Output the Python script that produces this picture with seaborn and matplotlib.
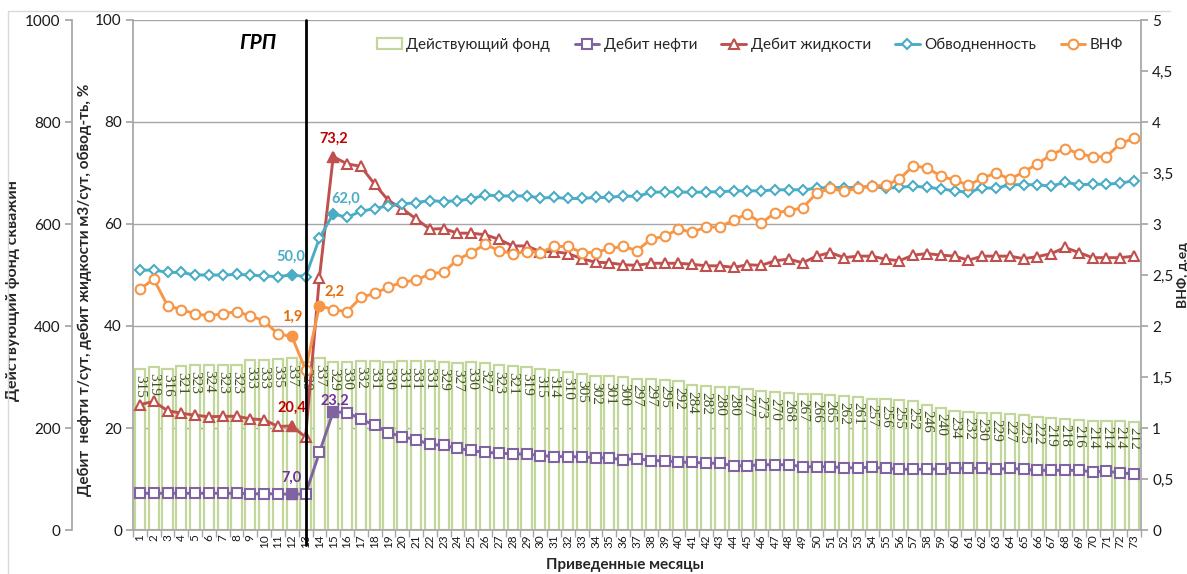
import numpy as np
import pandas as pd
import matplotlib
matplotlib.use("Agg")
import matplotlib.pyplot as plt
import seaborn as sns
from matplotlib.lines import Line2D
from matplotlib.patches import Patch
from matplotlib.ticker import FuncFormatter, MultipleLocator, FixedLocator

# ---- data -------------------------------------------------------------
months = list(range(1, 74))

# active well stock (bars, outer left axis)
fund = [315, 319, 316, 321, 323, 324, 323, 323, 333, 333,
        335, 337, 329, 337, 329, 330, 332, 331, 330, 331,
        331, 331, 329, 327, 330, 327, 323, 321, 319, 315,
        314, 310, 305, 302, 301, 300, 297, 297, 295, 292,
        284, 282, 280, 280, 277, 273, 270, 268, 267, 266,
        265, 262, 261, 257, 256, 255, 252, 246, 240, 234,
        232, 230, 229, 227, 225, 222, 219, 218, 216, 214,
        214, 214, 212]

# oil rate, t/day
oil = [7.2, 7.2, 7.2, 7.2, 7.2, 7.2, 7.2, 7.2, 7.1, 7.1,
       7.1, 7.0, 7.1, 15.2, 23.2, 23.0, 21.8, 20.5, 19.1, 18.3,
       17.7, 16.8, 16.6, 16.0, 15.6, 15.2, 15.1, 14.9, 14.9, 14.6,
       14.4, 14.4, 14.3, 14.2, 14.1, 13.8, 14.0, 13.6, 13.6, 13.3,
       13.3, 13.1, 13.1, 12.6, 12.6, 12.8, 12.8, 12.8, 12.4, 12.4,
       12.4, 12.2, 12.2, 12.3, 12.1, 11.9, 11.9, 11.9, 12.0, 12.1,
       12.1, 12.1, 11.9, 12.1, 11.9, 11.7, 11.7, 11.7, 11.7, 11.4,
       11.5, 11.2, 11.0]

# liquid rate, m3/day
liquid = [24.6, 25.2, 23.4, 22.9, 22.5, 22.2, 22.3, 22.3, 21.8, 21.6,
          20.3, 20.4, 18.2, 49.5, 73.2, 71.8, 71.3, 67.8, 64.6, 63.0,
          61.0, 59.0, 59.1, 58.2, 58.2, 57.9, 57.0, 55.7, 55.7, 54.6,
          54.6, 54.2, 53.2, 52.5, 52.4, 52.0, 51.9, 52.3, 52.3, 52.3,
          52.1, 51.8, 51.8, 51.5, 52.0, 51.9, 52.8, 53.1, 52.4, 53.7,
          54.4, 53.4, 53.7, 53.7, 53.1, 52.8, 53.9, 54.2, 53.9, 53.7,
          52.9, 53.7, 53.7, 53.7, 53.2, 53.6, 54.2, 55.4, 54.4, 53.4,
          53.4, 53.4, 53.7]

# water cut, %
watercut = [50.9, 51.0, 50.5, 50.5, 50.0, 50.0, 50.0, 50.1, 50.0, 49.8,
            49.7, 50.0, 49.7, 57.2, 62.0, 61.3, 62.5, 63.0, 63.6, 63.9,
            64.2, 64.6, 64.4, 64.6, 64.9, 65.7, 65.5, 65.5, 65.5, 65.1,
            65.2, 65.0, 65.0, 65.2, 65.2, 65.5, 65.4, 66.2, 66.3, 66.3,
            66.2, 66.3, 66.3, 66.5, 66.5, 66.5, 66.7, 66.7, 66.7, 67.0,
            67.2, 67.1, 67.2, 67.4, 67.0, 67.2, 67.4, 67.2, 66.9, 66.5,
            66.2, 67.1, 67.0, 67.7, 67.7, 67.7, 67.4, 68.2, 67.7, 67.8,
            67.8, 68.0, 68.5]

# water-oil ratio (right axis)
wor = [2.36, 2.46, 2.20, 2.16, 2.12, 2.10, 2.12, 2.14, 2.10, 2.05,
       1.92, 1.90, 1.57, 2.20, 2.16, 2.14, 2.28, 2.32, 2.38, 2.43,
       2.45, 2.51, 2.53, 2.65, 2.72, 2.80, 2.74, 2.71, 2.73, 2.72,
       2.78, 2.78, 2.72, 2.72, 2.76, 2.78, 2.74, 2.85, 2.88, 2.95,
       2.92, 2.97, 2.97, 3.04, 3.10, 3.01, 3.11, 3.13, 3.16, 3.30,
       3.35, 3.32, 3.35, 3.37, 3.38, 3.44, 3.57, 3.55, 3.47, 3.43,
       3.38, 3.45, 3.50, 3.44, 3.51, 3.59, 3.68, 3.74, 3.69, 3.66,
       3.66, 3.79, 3.84]

frac_month = 13  # month of hydraulic fracturing

# ---- style ------------------------------------------------------------
sns.set_theme(style="white")
plt.rcParams['font.family'] = ['Lato', 'DejaVu Sans']

C_OIL, C_LIQ, C_WC, C_WOR = "#8064a2", "#c0504d", "#4bacc6", "#f79646"
C_BAR_EDGE, C_BAR_TXT = "#c3d69b", "#3f5220"
C_GRID = "#a6a6a6"

idx = np.arange(len(months))
df = pd.DataFrame({"i": idx, "month": months, "fund": fund, "oil": oil,
                   "liquid": liquid, "watercut": watercut, "wor": wor})

fig = plt.figure(figsize=(11.87, 5.74), dpi=100)
W, H = 1187, 574
x0, x1, ytop, ybot = 133, 1141, 20, 530
rect = [x0 / W, 1 - ybot / H, (x1 - x0) / W, (ybot - ytop) / H]

ax_fund = fig.add_axes(rect)
ax = fig.add_axes(rect)
ax.patch.set_alpha(0)
ax_wor = ax.twinx()

# ---- bars: active stock ----------------------------------------------
sns.barplot(data=df, x="i", y="fund", ax=ax_fund, color="white",
            edgecolor=C_BAR_EDGE, linewidth=1.6, width=0.74, saturation=1)
ax_fund.set_ylim(0, 1000)
ax_fund.set_xlim(-0.5, len(months) - 0.5)
for i, v in zip(idx, fund):
    ax_fund.annotate(str(v), (i, v), xytext=(0, -4), textcoords="offset points",
                     rotation=270, ha="center", va="top", fontsize=11,
                     family="Liberation Serif", color=C_BAR_TXT, zorder=3)

ax_fund.set_axisbelow(True)
ax_fund.yaxis.set_major_locator(MultipleLocator(200))
ax_fund.grid(axis="y", color=C_GRID, lw=1)
ax_fund.grid(axis="x", visible=False)
for s in ["top", "right"]:
    ax_fund.spines[s].set_visible(False)
ax_fund.spines["left"].set_position(("outward", 44))
for s in ["left", "bottom"]:
    ax_fund.spines[s].set_color(C_GRID)
ax_fund.tick_params(axis="y", left=True, length=5, color=C_GRID,
                    labelsize=11, pad=3, labelcolor="#1a1a1a")
ax_fund.set_xticks(idx)
ax_fund.set_xticklabels([str(m) for m in months], rotation=90, fontsize=8.5)
ax_fund.xaxis.set_minor_locator(FixedLocator(np.arange(-0.5, len(months), 1)))
ax_fund.tick_params(axis="x", which="major", bottom=True, length=0, pad=3,
                    labelcolor="#1a1a1a")
ax_fund.tick_params(axis="x", which="minor", bottom=True, length=5, color=C_GRID)
ax_fund.set_xlabel("Приведенные месяцы", fontsize=11, fontweight="bold")
ax_fund.xaxis.set_label_coords(0.488, -0.054)
ax_fund.set_ylabel("Действующий фонд скважин", fontsize=11.5, fontweight="bold")
ax_fund.yaxis.set_label_coords(-0.112, 0.47)

# ---- lines: rates and water cut --------------------------------------
def line(axis, col, color, marker, ms):
    sns.lineplot(data=df, x="i", y=col, ax=axis, color=color, lw=2.1,
                 marker=marker, markersize=ms, markerfacecolor="white",
                 markeredgecolor=color, markeredgewidth=1.5, errorbar=None,
                 zorder=4)

line(ax, "oil", C_OIL, "s", 6.5)
line(ax, "liquid", C_LIQ, "^", 7.5)
line(ax, "watercut", C_WC, "D", 5.5)
line(ax_wor, "wor", C_WOR, "o", 7)

ax.set_ylim(0, 100)
ax.set_xlim(-0.5, len(months) - 0.5)
ax.yaxis.set_major_locator(MultipleLocator(20))
ax.set_xticks([])
ax.set_xlabel("")
for s in ["top", "right", "bottom"]:
    ax.spines[s].set_visible(False)
ax.spines["left"].set_color(C_GRID)
ax.tick_params(axis="y", left=True, length=5, color=C_GRID, labelsize=11,
               pad=3, labelcolor="#1a1a1a")
ax.set_ylabel("Дебит  нефти т/сут, дебит жидкости м3/сут, обвод-ть, %",
              fontsize=11, fontweight="bold")
ax.yaxis.set_label_coords(-0.041, 0.47)

ax_wor.set_ylim(0, 5)
ax_wor.yaxis.set_major_locator(MultipleLocator(0.5))
ax_wor.yaxis.set_major_formatter(FuncFormatter(lambda v, p: ("%g" % v).replace(".", ",")))
for s in ["top", "left", "bottom"]:
    ax_wor.spines[s].set_visible(False)
ax_wor.spines["right"].set_color(C_GRID)
ax_wor.tick_params(axis="y", right=True, length=5, color=C_GRID, labelsize=11,
                   pad=3, labelcolor="#1a1a1a")
ax_wor.set_ylabel("ВНФ, д.ед", fontsize=10, fontweight="bold", rotation=90)
ax_wor.yaxis.set_label_coords(1.0355, 0.5)
ax_wor.grid(False)

# ---- highlighted points with value labels ----------------------------
def fmt(v):
    return f"{v:.1f}".replace(".", ",")

callouts = [
    (ax, oil, 11, C_OIL, "#7030a0", "s", 6.5, (0, 12)),
    (ax, oil, 14, C_OIL, "#7030a0", "s", 6.5, (1, 8)),
    (ax, liquid, 11, C_LIQ, "#c00000", "^", 7.5, (0, 13)),
    (ax, liquid, 14, C_LIQ, "#c00000", "^", 7.5, (0, 13)),
    (ax, watercut, 11, C_WC, C_WC, "D", 5.5, (-1, 13)),
    (ax, watercut, 14, C_WC, C_WC, "D", 5.5, (9, 11)),
    (ax_wor, wor, 11, C_WOR, "#e46c0a", "o", 7, (0, 14)),
    (ax_wor, wor, 13, C_WOR, "#e46c0a", "o", 7, (11, 10)),
]
for axis, series, i, color, tcolor, marker, ms, off in callouts:
    axis.plot([idx[i]], [series[i]], marker=marker, ms=ms, color=color,
              mec=color, mfc=color, ls="none", zorder=5)
    axis.annotate(fmt(series[i]), (idx[i], series[i]), xytext=off,
                  textcoords="offset points", ha="center", va="center",
                  fontsize=10.5, fontweight="bold", color=tcolor, zorder=6)

# ---- fracturing marker -----------------------------------------------
ax_wor.axvline(months.index(frac_month), ymin=-0.03, ymax=1, color="black",
               lw=2, clip_on=False, zorder=7)
ax.text(0.124, 0.955, "ГРП", transform=ax.transAxes, ha="center", va="center",
        fontsize=15, fontweight="bold", fontstyle="italic", color="black")

# ---- legend ----------------------------------------------------------
handles = [
    Patch(facecolor="white", edgecolor=C_BAR_EDGE, linewidth=1.6),
    Line2D([], [], color=C_OIL, lw=2.1, marker="s", ms=6.5, mfc="white", mec=C_OIL, mew=1.5),
    Line2D([], [], color=C_LIQ, lw=2.1, marker="^", ms=7.5, mfc="white", mec=C_LIQ, mew=1.5),
    Line2D([], [], color=C_WC, lw=2.1, marker="D", ms=5.5, mfc="white", mec=C_WC, mew=1.5),
    Line2D([], [], color=C_WOR, lw=2.1, marker="o", ms=7, mfc="white", mec=C_WOR, mew=1.5),
]
labels = ["Действующий фонд", "Дебит нефти", "Дебит жидкости", "Обводненность", "ВНФ"]
fig.legend(handles, labels, loc="center", bbox_to_anchor=(0.632, 1 - 45 / H),
           ncol=5, frameon=False, fontsize=11, handlelength=1.6,
           handletextpad=0.3, columnspacing=1.6)

# light frame of the chart area
fig.add_artist(Line2D([8 / W, 8 / W], [0, 1 - 11 / H], transform=fig.transFigure,
                      color="#d9d9d9", lw=1))
fig.add_artist(Line2D([8 / W, 1170 / W], [1 - 11 / H, 1 - 11 / H],
                      transform=fig.transFigure, color="#d9d9d9", lw=1))

fig.savefig("out.png", dpi=100)
